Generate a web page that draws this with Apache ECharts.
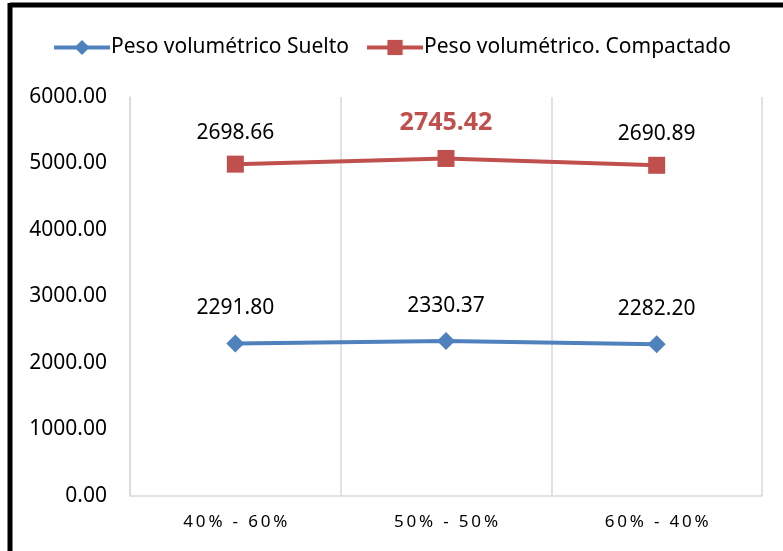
<!DOCTYPE html>
<html>
<head>
<meta charset="utf-8">
<script src="https://cdn.jsdelivr.net/npm/echarts@6/dist/echarts.min.js"></script>
<style>
  html, body { margin: 0; padding: 0; background: #fff; }
  #chart { width: 783px; height: 551px; }
</style>
</head>
<body>
<div id="chart"></div>
<script>
// datos del grafico
const categorias = ['40% - 60%', '50% - 50%', '60% - 40%']
const pesoSuelto = [2291.80, 2330.37, 2282.20]
const pesoCompactado = [2698.66, 2745.42, 2690.89]
const ticksY = [0, 1000, 2000, 3000, 4000, 5000, 6000]

const fuente = 'Noto Sans'
const chart = echarts.init(document.getElementById('chart'))

const option = {
  backgroundColor: '#fff',
  textStyle: { fontFamily: fuente },
  animation: false,
  // marco negro
  graphic: [
    { type: 'line', shape: { x1: 10, y1: 5, x2: 783, y2: 5 }, style: { stroke: '#000', lineWidth: 5 } },
    { type: 'line', shape: { x1: 10, y1: 3, x2: 10, y2: 551 }, style: { stroke: '#000', lineWidth: 5 } }
  ],
  legend: {
    top: 32,
    left: 'center',
    itemWidth: 56,
    itemHeight: 19,
    itemGap: 16,
    lineStyle: { width: 4 },
    textStyle: { fontSize: 21, color: '#000', fontFamily: fuente, padding: [0, 0, 0, -4] },
    data: ['Peso volumétrico Suelto', 'Peso volumétrico. Compactado']
  },
  grid: { left: 130, right: 21, top: 97, bottom: 55 },
  xAxis: {
    type: 'category',
    data: categorias,
    boundaryGap: true,
    axisLine: { lineStyle: { color: '#d9d9d9', width: 1.5 } },
    axisTick: { show: false },
    splitLine: { show: true, lineStyle: { color: '#d9d9d9', width: 1.5 } },
    axisLabel: {
      color: '#000',
      fontSize: 17,
      margin: 18,
      formatter: v => v.split('').join('\u2009')
    }
  },
  yAxis: {
    type: 'value',
    min: ticksY[0],
    max: ticksY[ticksY.length - 1],
    interval: 1000,
    axisLine: { show: true, lineStyle: { color: '#d9d9d9', width: 1.5 } },
    axisTick: { show: false },
    splitLine: { show: false },
    axisLabel: {
      color: '#000',
      fontSize: 21,
      margin: 23,
      formatter: v => v.toFixed(2)
    }
  },
  series: [
    {
      name: 'Peso volumétrico Suelto',
      type: 'line',
      stack: 'total',
      data: pesoSuelto,
      symbol: 'diamond',
      symbolSize: 18,
      color: '#4f81bd',
      lineStyle: { width: 4, color: '#4f81bd' },
      label: {
        show: true,
        position: 'top',
        distance: 16,
        color: '#000',
        fontSize: 21,
        formatter: p => p.value.toFixed(2)
      }
    },
    {
      name: 'Peso volumétrico. Compactado',
      type: 'line',
      stack: 'total',
      data: pesoCompactado.map((v, i) => i === 1
        ? { value: v, label: { color: '#c0504d', fontWeight: 'bold', fontSize: 25, distance: 15 } }
        : v),
      symbol: 'rect',
      symbolSize: 17,
      color: '#c0504d',
      lineStyle: { width: 4, color: '#c0504d' },
      label: {
        show: true,
        position: 'top',
        distance: 12,
        color: '#000',
        fontSize: 21,
        formatter: p => p.value.toFixed(2)
      }
    }
  ]
}

chart.setOption(option)
window.addEventListener('resize', () => {
  chart.resize()
})
</script>
</body>
</html>
